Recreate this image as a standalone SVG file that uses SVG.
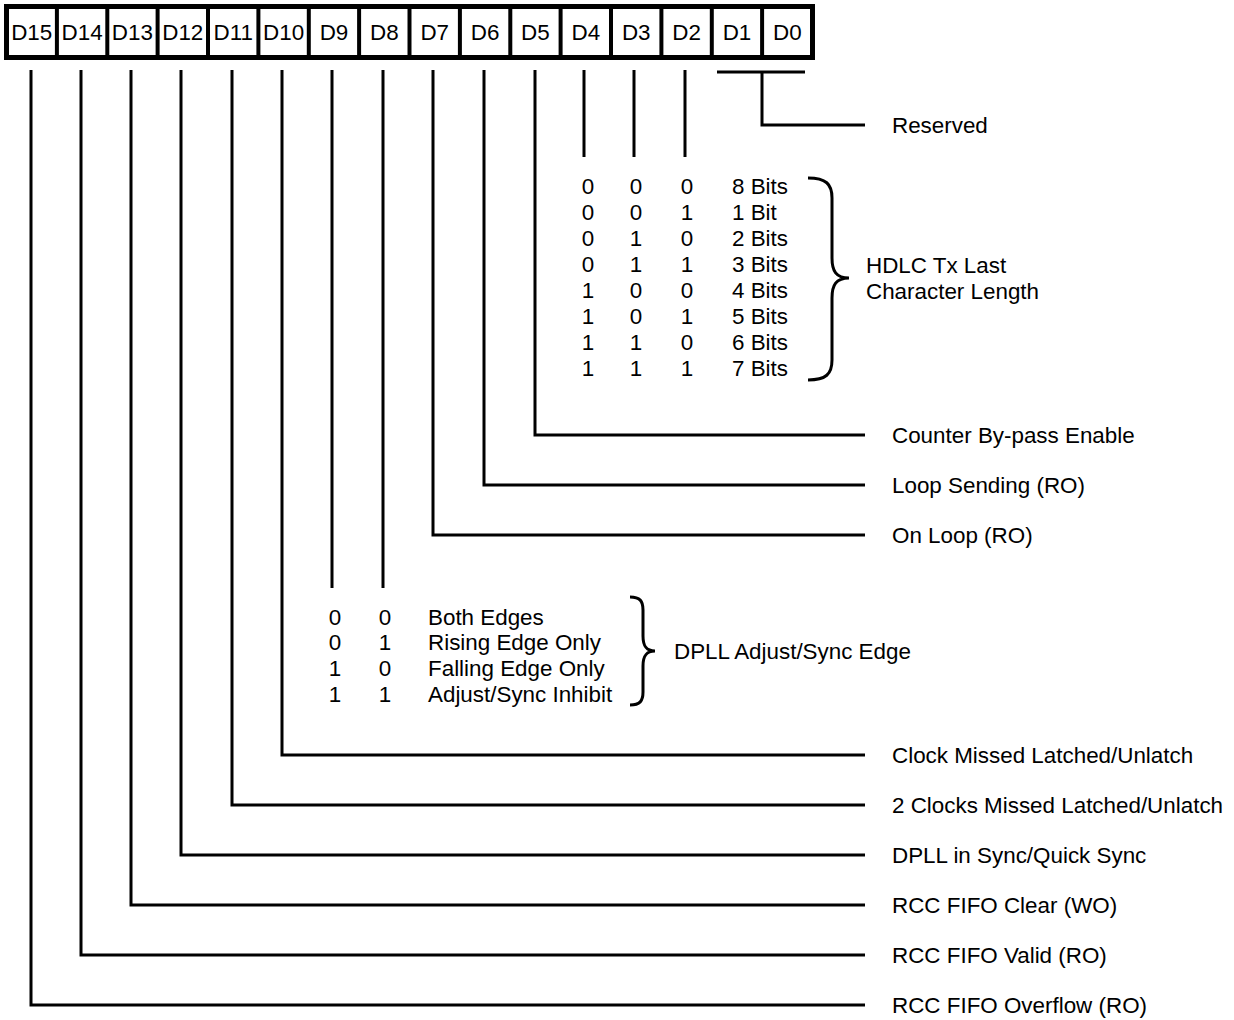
<svg xmlns="http://www.w3.org/2000/svg" width="1234" height="1020" viewBox="0 0 1234 1020">
<style>
text{font-family:"Liberation Sans",Arial,Helvetica,sans-serif;font-size:22.4px;fill:#000}
.c{text-anchor:middle}
.ln{fill:none;stroke:#000;stroke-width:3}
.reg{fill:#fff;stroke:#000;stroke-width:5}
.div{stroke:#000;stroke-width:4}
.br{fill:none;stroke:#000;stroke-width:3}
</style>
<rect width="1234" height="1020" fill="#fff"/>
<g id="register">
<rect class="reg" x="6.5" y="6.5" width="806" height="51"/>
<g class="div">
<line x1="56.9" y1="6.5" x2="56.9" y2="57.5"/>
<line x1="107.3" y1="6.5" x2="107.3" y2="57.5"/>
<line x1="157.6" y1="6.5" x2="157.6" y2="57.5"/>
<line x1="208" y1="6.5" x2="208" y2="57.5"/>
<line x1="258.4" y1="6.5" x2="258.4" y2="57.5"/>
<line x1="308.8" y1="6.5" x2="308.8" y2="57.5"/>
<line x1="359.1" y1="6.5" x2="359.1" y2="57.5"/>
<line x1="409.5" y1="6.5" x2="409.5" y2="57.5"/>
<line x1="459.9" y1="6.5" x2="459.9" y2="57.5"/>
<line x1="510.3" y1="6.5" x2="510.3" y2="57.5"/>
<line x1="560.6" y1="6.5" x2="560.6" y2="57.5"/>
<line x1="611" y1="6.5" x2="611" y2="57.5"/>
<line x1="661.4" y1="6.5" x2="661.4" y2="57.5"/>
<line x1="711.8" y1="6.5" x2="711.8" y2="57.5"/>
<line x1="762.1" y1="6.5" x2="762.1" y2="57.5"/>
</g>
<g style="font-size:21.5px">
<text class="c" x="31.7" y="40">D15</text>
<text class="c" x="82.1" y="40">D14</text>
<text class="c" x="132.4" y="40">D13</text>
<text class="c" x="182.8" y="40">D12</text>
<text class="c" x="233.2" y="40">D11</text>
<text class="c" x="283.6" y="40">D10</text>
<text class="c" x="334" y="40">D9</text>
<text class="c" x="384.3" y="40">D8</text>
<text class="c" x="434.7" y="40">D7</text>
<text class="c" x="485.1" y="40">D6</text>
<text class="c" x="535.4" y="40">D5</text>
<text class="c" x="585.8" y="40">D4</text>
<text class="c" x="636.2" y="40">D3</text>
<text class="c" x="686.6" y="40">D2</text>
<text class="c" x="737" y="40">D1</text>
<text class="c" x="787.3" y="40">D0</text>
</g>
</g>
<g id="connectors">
<path class="ln" d="M717,72 H805 M762,72 V125 H865"/>
<path class="ln" d="M584,70 V157 M634,70 V157 M685,70 V157"/>
<path class="ln" d="M535,70 V435 H865"/>
<path class="ln" d="M484,70 V485 H865"/>
<path class="ln" d="M433,70 V535 H865"/>
<path class="ln" d="M332,70 V588 M383,70 V588"/>
<path class="ln" d="M282,70 V755 H865"/>
<path class="ln" d="M232,70 V805 H865"/>
<path class="ln" d="M181,70 V855 H865"/>
<path class="ln" d="M131,70 V905 H865"/>
<path class="ln" d="M81,70 V955 H865"/>
<path class="ln" d="M31,70 V1005 H865"/>
</g>
<g id="reserved"><text x="892" y="133">Reserved</text></g>
<g id="hdlc-table">
<text class="c" x="588" y="194">0</text><text class="c" x="636" y="194">0</text><text class="c" x="687" y="194">0</text><text x="732" y="194">8 Bits</text>
<text class="c" x="588" y="220">0</text><text class="c" x="636" y="220">0</text><text class="c" x="687" y="220">1</text><text x="732" y="220">1 Bit</text>
<text class="c" x="588" y="246">0</text><text class="c" x="636" y="246">1</text><text class="c" x="687" y="246">0</text><text x="732" y="246">2 Bits</text>
<text class="c" x="588" y="272">0</text><text class="c" x="636" y="272">1</text><text class="c" x="687" y="272">1</text><text x="732" y="272">3 Bits</text>
<text class="c" x="588" y="298">1</text><text class="c" x="636" y="298">0</text><text class="c" x="687" y="298">0</text><text x="732" y="298">4 Bits</text>
<text class="c" x="588" y="324">1</text><text class="c" x="636" y="324">0</text><text class="c" x="687" y="324">1</text><text x="732" y="324">5 Bits</text>
<text class="c" x="588" y="350">1</text><text class="c" x="636" y="350">1</text><text class="c" x="687" y="350">0</text><text x="732" y="350">6 Bits</text>
<text class="c" x="588" y="376">1</text><text class="c" x="636" y="376">1</text><text class="c" x="687" y="376">1</text><text x="732" y="376">7 Bits</text>
<path class="br" d="M808,178 C826,178 832,184 832,198 L832,258 C832,271 836,278 849,278 C836,278 832,285 832,298 L832,360 C832,374 826,380 808,380"/>
</g>
<g id="hdlc"><text x="866" y="273">HDLC Tx Last</text><text x="866" y="299">Character Length</text></g>
<g id="counter-bypass"><text x="892" y="443">Counter By-pass Enable</text></g>
<g id="loop-sending"><text x="892" y="493">Loop Sending (RO)</text></g>
<g id="on-loop"><text x="892" y="543">On Loop (RO)</text></g>
<g id="dpll-table">
<text class="c" x="335" y="625">0</text><text class="c" x="385" y="625">0</text><text x="428" y="625">Both Edges</text>
<text class="c" x="335" y="650">0</text><text class="c" x="385" y="650">1</text><text x="428" y="650">Rising Edge Only</text>
<text class="c" x="335" y="676">1</text><text class="c" x="385" y="676">0</text><text x="428" y="676">Falling Edge Only</text>
<text class="c" x="335" y="702">1</text><text class="c" x="385" y="702">1</text><text x="428" y="702">Adjust/Sync Inhibit</text>
<path class="br" d="M630,597 C640,597 643,601 643,610 L643,636 C643,646 646,651 655,651 C646,651 643,656 643,666 L643,692 C643,701 640,705 630,705"/>
</g>
<g id="dpll-edge"><text x="674" y="659">DPLL Adjust/Sync Edge</text></g>
<g id="clock-missed"><text x="892" y="763">Clock Missed Latched/Unlatch</text></g>
<g id="two-clocks-missed"><text x="892" y="813">2 Clocks Missed Latched/Unlatch</text></g>
<g id="dpll-sync"><text x="892" y="863">DPLL in Sync/Quick Sync</text></g>
<g id="fifo-clear"><text x="892" y="913">RCC FIFO Clear (WO)</text></g>
<g id="fifo-valid"><text x="892" y="963">RCC FIFO Valid (RO)</text></g>
<g id="fifo-overflow"><text x="892" y="1013">RCC FIFO Overflow (RO)</text></g>
</svg>
